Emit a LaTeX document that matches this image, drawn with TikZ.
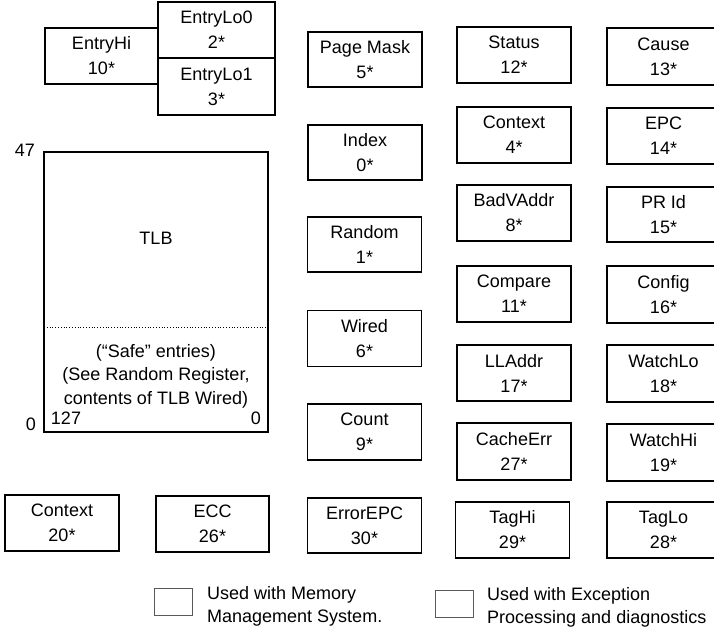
\documentclass[tikz,border=0pt]{standalone}
\usepackage{fontspec}
\setmainfont{Liberation Sans}
\begin{document}
\begin{tikzpicture}[x=1pt,y=-1pt,
  reg/.style={draw=black, line width=1.8pt, fill=white, inner sep=0pt, align=center,
    font=\fontsize{18}{25}\selectfont},
  lbl/.style={inner sep=0pt, font=\fontsize{18}{24}\selectfont},
  legbox/.style={draw=black!65, line width=0.7pt, inner sep=0pt, minimum width=38, minimum height=27},
  legtxt/.style={inner sep=0pt, anchor=west, align=left, font=\fontsize{18}{23}\selectfont}]
\useasboundingbox (0,0) rectangle (714,629);
\clip (0,0) rectangle (714,629);
% top-left
\node[reg, minimum width=113, minimum height=56] (entryhi) at (101.5,56) {EntryHi\\10*};
\node[reg, minimum width=117, minimum height=56] (entrylo0) at (216.5,30) {EntryLo0\\2*};
\node[reg, minimum width=117, minimum height=57] (entrylo1) at (216.5,86.5) {EntryLo1\\3*};
% TLB
\node[reg, minimum width=224, minimum height=280] (tlb) at (156,292) {};
\coordinate (dl) at (44,327);
\coordinate (dr) at (268,327);
\draw[dotted, line width=0.8pt] (dl) -- (dr);
\node[lbl] (tlbtxt) at (156,238) {TLB};
\node[lbl, align=center, font=\fontsize{18}{23.5}\selectfont] (safe) at (156,376) {(\char"201CSafe\char"201D\ entries)\\(See Random Register,\\contents of TLB Wired)};
\node[lbl] (n47) at (25,150) {47};
\node[lbl] (n0l) at (31,424) {0};
\node[lbl] (n127) at (66,418) {127};
\node[lbl] (n0r) at (256,418) {0};
% middle column
\node[reg, minimum width=114, minimum height=55] (pagemask) at (365,59.5) {Page Mask\\5*};
\node[reg, minimum width=114, minimum height=55] (index) at (365,152.5) {Index\\0*};
\node[reg, minimum width=114, minimum height=55] (random) at (364.5,244.5) {Random\\1*};
\node[reg, minimum width=114, minimum height=56] (wired) at (364.5,338.5) {Wired\\6*};
\node[reg, minimum width=114, minimum height=56] (count) at (364.5,432) {Count\\9*};
\node[reg, minimum width=114, minimum height=55] (errorepc) at (364.5,525.5) {ErrorEPC\\30*};
% middle-right column
\node[reg, minimum width=114, minimum height=56] (status) at (514,55) {Status\\12*};
\node[reg, minimum width=114, minimum height=56] (context4) at (514,135) {Context\\4*};
\node[reg, minimum width=114, minimum height=56] (badvaddr) at (514,213) {BadVAddr\\8*};
\node[reg, minimum width=114, minimum height=56] (compare) at (514,294) {Compare\\11*};
\node[reg, minimum width=114, minimum height=56] (lladdr) at (514,373) {LLAddr\\17*};
\node[reg, minimum width=114, minimum height=57] (cacheerr) at (514,451.5) {CacheErr\\27*};
\node[reg, minimum width=114, minimum height=56] (taghi) at (512.5,530) {TagHi\\29*};
% right column (cut at the edge)
\node[reg, minimum width=113, minimum height=57] (cause) at (663.5,56.5) {Cause\\13*};
\node[reg, minimum width=113, minimum height=56] (epc) at (663.5,136) {EPC\\14*};
\node[reg, minimum width=113, minimum height=55] (prid) at (663.5,214.5) {PR Id\\15*};
\node[reg, minimum width=113, minimum height=57] (config) at (663.5,294.5) {Config\\16*};
\node[reg, minimum width=113, minimum height=57] (watchlo) at (663.5,373.5) {WatchLo\\18*};
\node[reg, minimum width=113, minimum height=57] (watchhi) at (663.5,452.5) {WatchHi\\19*};
\node[reg, minimum width=113, minimum height=56] (taglo) at (663.5,530) {TagLo\\28*};
% bottom-left
\node[reg, minimum width=114, minimum height=56] (context20) at (62,523) {Context\\20*};
\node[reg, minimum width=113, minimum height=56] (ecc) at (212.5,524) {ECC\\26*};
% legend
\node[legbox] (leg1) at (173,601.5) {};
\node[legtxt] (leg1t) at (207,606) {Used with Memory\\Management System.};
\node[legbox] (leg2) at (454.5,603.5) {};
\node[legtxt] (leg2t) at (487,607) {Used with Exception\\Processing and diagnostics};
\end{tikzpicture}
\end{document}
